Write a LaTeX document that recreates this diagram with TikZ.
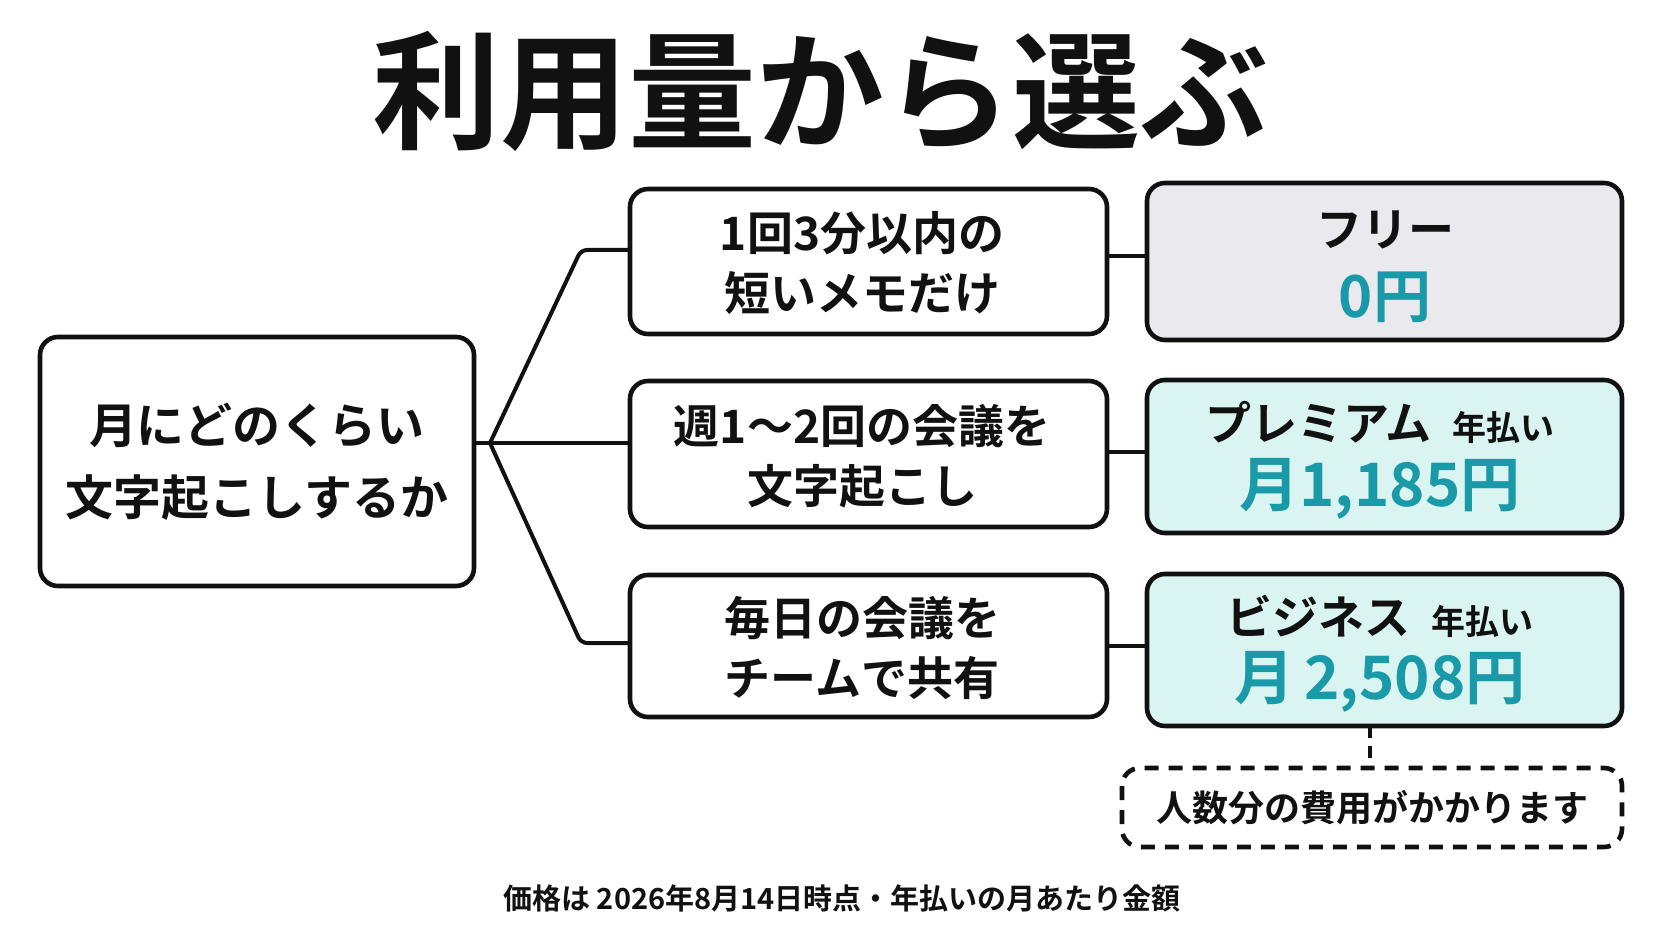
\documentclass[tikz,border=0pt]{standalone}
\usepackage{fontspec}
\setmainfont{Noto Sans CJK JP}[BoldFont={Noto Sans CJK JP Bold}]
\definecolor{teal}{HTML}{1A9AA8}
\definecolor{tealbg}{HTML}{D9F4F1}
\definecolor{greybg}{HTML}{E9E9EE}
\definecolor{ink}{HTML}{111111}
\begin{document}
\begin{tikzpicture}[x=0.5pt,y=-0.5pt,
  box/.style={draw=ink,line width=2.3pt,rounded corners=9pt,fill=white},
  conn/.style={draw=ink,line width=2pt},
  txt/.style={font=\bfseries\fontsize{23pt}{30pt}\selectfont,align=center,text=ink}]
\useasboundingbox[fill=white] (0,0) rectangle (1672,941);
\node[font=\bfseries\fontsize{64pt}{64pt}\selectfont,text=ink] (title) at (820,91) {利用量から選ぶ};
% boxes
\draw[box] (40,337) rectangle (474,586);
\node[txt,font=\bfseries\fontsize{24pt}{36pt}\selectfont] (q) at (257,462) {月にどのくらい\\文字起こしするか};
\draw[box] (630,189) rectangle (1107,334);
\node[txt] (a1) at (862,263) {1回3分以内の\\短いメモだけ};
\draw[box] (630,381) rectangle (1107,527);
\node[txt] (a2) at (862,456) {週1〜2回の会議を\\文字起こし};
\draw[box] (630,575) rectangle (1107,717);
\node[txt] (a3) at (862,648) {毎日の会議を\\チームで共有};
\draw[box,fill=greybg] (1147,183) rectangle (1622,340);
\node[txt] (p1) at (1385,230) {フリー};
\node[txt,text=teal,font=\bfseries\fontsize{29pt}{30pt}\selectfont] (p1b) at (1385,297) {0円};
\draw[box,fill=tealbg] (1147,380) rectangle (1622,533);
\node[txt] (p2) at (1380,422) {プレミアム\ \ {\fontsize{17pt}{18pt}\selectfont 年払い}};
\node[txt,text=teal,font=\bfseries\fontsize{30pt}{30pt}\selectfont] (p2b) at (1380,489) {月1,185円};
\draw[box,fill=tealbg] (1147,574) rectangle (1622,726);
\node[txt] (p3) at (1380,616) {ビジネス\ \ {\fontsize{17pt}{18pt}\selectfont 年払い}};
\node[txt,text=teal,font=\bfseries\fontsize{30pt}{30pt}\selectfont] (p3b) at (1380,682) {月\,2,508円};
\draw[box,dashed,dash pattern=on 7pt off 5pt] (1122,768) rectangle (1622,847);
\node[txt,font=\bfseries\fontsize{18pt}{20pt}\selectfont] (note) at (1372,808) {人数分の費用がかかります};
\node[font=\bfseries\fontsize{14.5pt}{16pt}\selectfont,text=ink] (foot) at (842,898) {価格は 2026年8月14日時点・年払いの月あたり金額};
% connectors
\coordinate (b) at (490,443);
\draw[conn] (474,443) -- (b);
\draw[conn,rounded corners=3pt] (b) -- (581,250) -- (630,250);
\draw[conn] (b) -- (630,443);
\draw[conn,rounded corners=3pt] (b) -- (581,643) -- (630,643);
\draw[conn] (1107,256) -- (1147,256);
\draw[conn] (1107,452) -- (1147,452);
\draw[conn] (1107,646) -- (1147,646);
\draw[conn,dashed,dash pattern=on 6pt off 4pt] (1370,726) -- (1370,768);
\end{tikzpicture}
\end{document}
